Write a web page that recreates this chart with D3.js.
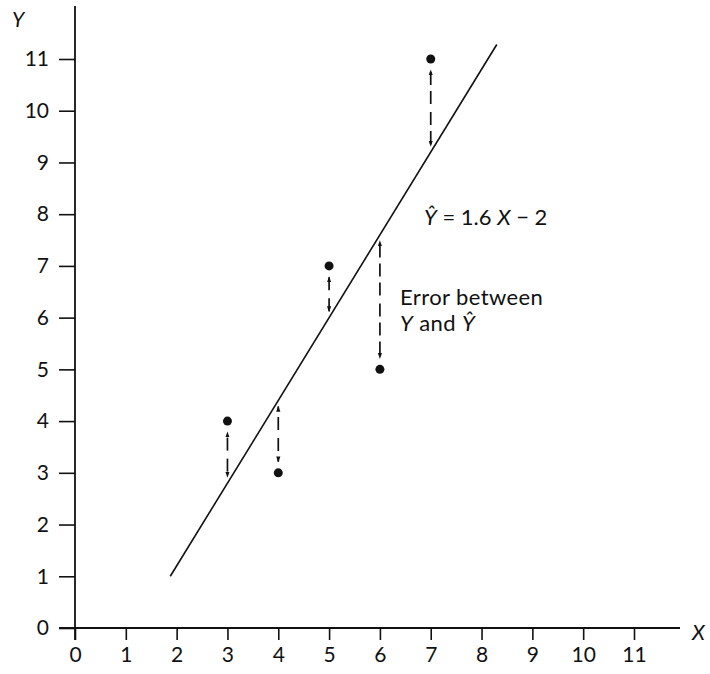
<!DOCTYPE html>
<html>
<head>
<meta charset="utf-8">
<script src="https://cdn.jsdelivr.net/npm/d3@7"></script>
<style>
  html, body { margin: 0; padding: 0; background: #fff; }
  svg { display: block; }
  text { font-family: Lato, "Noto Sans", sans-serif; fill: #111; }
</style>
</head>
<body>
<svg id="chart" width="710" height="674"></svg>
<script>
// Observed data points
const xValues = [3, 4, 5, 6, 7];
const yValues = [4, 3, 7, 5, 11];

// Tick labels
const xTicks = [0, 1, 2, 3, 4, 5, 6, 7, 8, 9, 10, 11];
const yTicks = [0, 1, 2, 3, 4, 5, 6, 7, 8, 9, 10, 11];

// Fitted regression line  Ŷ = 1.6 X − 2
const slope = 1.6;
const intercept = -2;
const lineXRange = [1.875, 8.3];

const svg = d3.select("#chart");
const x = d3.scaleLinear().domain([0, 11]).range([75, 634]);
const y = d3.scaleLinear().domain([0, 11]).range([628, 59]);
const fit = v => slope * v + intercept;

// Arrowhead marker
const defs = svg.append("defs");
defs.append("marker")
  .attr("id", "head")
  .attr("viewBox", "0 0 10 10")
  .attr("refX", 9).attr("refY", 5)
  .attr("markerWidth", 6).attr("markerHeight", 7)
  .attr("markerUnits", "userSpaceOnUse")
  .attr("orient", "auto")
  .append("path").attr("d", "M0,1.5 L10,5 L0,8.5 Z").attr("fill", "#111");

// Axes
const xAxis = d3.axisBottom(x).tickValues(xTicks).tickSize(12).tickPadding(7).tickFormat(d3.format("d"));
const yAxis = d3.axisLeft(y).tickValues(yTicks).tickSize(16).tickPadding(10).tickFormat(d3.format("d"));

const gx = svg.append("g").attr("transform", `translate(0,${y(0)})`).call(xAxis);
const gy = svg.append("g").attr("transform", `translate(${x(0)},0)`).call(yAxis);

gx.select(".domain").remove();
gy.select(".domain").remove();
[gx, gy].forEach(g => {
  g.selectAll(".tick line").attr("stroke", "#111").attr("stroke-width", 1.6);
  g.selectAll(".tick text").attr("font-size", 21).attr("fill", "#111")
    .style("font-family", "Lato, 'Noto Sans', sans-serif");
});

// Axis lines
svg.append("line")
  .attr("x1", 59).attr("x2", 680)
  .attr("y1", y(0)).attr("y2", y(0))
  .attr("stroke", "#111").attr("stroke-width", 1.8);
svg.append("line")
  .attr("x1", x(0)).attr("x2", x(0))
  .attr("y1", 6).attr("y2", y(0) + 12)
  .attr("stroke", "#111").attr("stroke-width", 1.8);

// Axis titles
svg.append("text").attr("x", 12).attr("y", 27)
  .attr("font-size", 21).attr("font-style", "italic").text("Y");
svg.append("text").attr("x", 692).attr("y", 640)
  .attr("font-size", 21).attr("font-style", "italic").text("X");

// Regression line
svg.append("line")
  .attr("x1", x(lineXRange[0])).attr("y1", y(fit(lineXRange[0])))
  .attr("x2", x(lineXRange[1])).attr("y2", y(fit(lineXRange[1])))
  .attr("stroke", "#111").attr("stroke-width", 1.6);

// Error arrows: dashed, pointing outward toward the point and the line
const pts = xValues.map((v, i) => ({ X: v, Y: yValues[i], Yhat: fit(v) }));
const arrows = svg.append("g");
pts.forEach(p => {
  const py = y(p.Y), ly = y(p.Yhat);
  const dir = ly > py ? 1 : -1;          // +1 when the line is below the point
  const a = py + dir * 11;                // end near the point
  const b = ly - dir * 6;                 // end near the line
  const mid = (a + b) / 2;
  const gap = 4;
  arrows.append("line")
    .attr("x1", x(p.X)).attr("x2", x(p.X))
    .attr("y1", mid - dir * gap).attr("y2", a)
    .attr("stroke", "#111").attr("stroke-width", 1.7)
    .attr("stroke-dasharray", "13,6")
    .attr("marker-end", "url(#head)");
  arrows.append("line")
    .attr("x1", x(p.X)).attr("x2", x(p.X))
    .attr("y1", mid + dir * gap).attr("y2", b)
    .attr("stroke", "#111").attr("stroke-width", 1.7)
    .attr("stroke-dasharray", "13,6")
    .attr("marker-end", "url(#head)");
});

// Data points
svg.append("g").selectAll("circle").data(pts).join("circle")
  .attr("cx", d => x(d.X)).attr("cy", d => y(d.Y)).attr("r", 4.5)
  .attr("fill", "#111");

// Equation label
const eq = svg.append("text").attr("x", 424).attr("y", 225).attr("font-size", 22);
eq.append("tspan").attr("font-style", "italic").text("Ŷ");
eq.append("tspan").text(" = 1.6 ");
eq.append("tspan").attr("font-style", "italic").text("X");
eq.append("tspan").text(" − 2");

// Error annotation
svg.append("text").attr("x", 400).attr("y", 305).attr("font-size", 22)
  .attr("letter-spacing", 0.4).text("Error between");
const l2 = svg.append("text").attr("x", 400).attr("y", 331).attr("font-size", 22)
  .attr("letter-spacing", 0.4);
l2.append("tspan").attr("font-style", "italic").text("Y");
l2.append("tspan").text(" and ");
l2.append("tspan").attr("font-style", "italic").text("Ŷ");
</script>
</body>
</html>
